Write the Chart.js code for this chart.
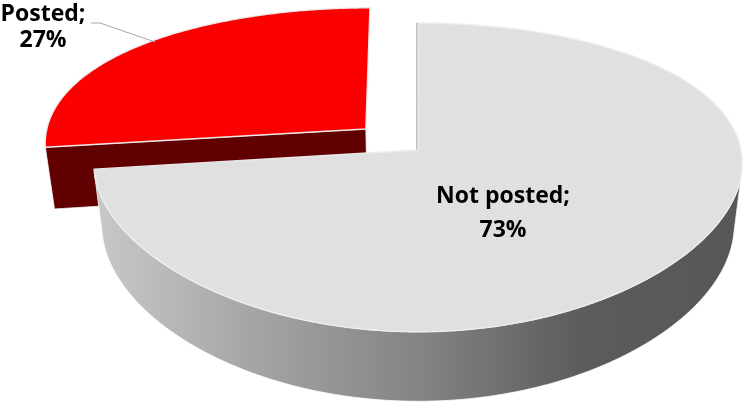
<!DOCTYPE html>
<html>
<head>
<meta charset="utf-8">
<script src="https://cdn.jsdelivr.net/npm/chart.js@4.4.1/dist/chart.umd.min.js"></script>
<style>
  html, body { margin: 0; padding: 0; background: #fff; }
  #chart { display: block; }
</style>
</head>
<body>
<canvas id="chart" width="745" height="407"></canvas>
<script>
const categories = ['Not posted', 'Posted'];
const shares = [73, 27];

// side wall shading per slice (left -> right)
const wallShades = [
    ['#c9c9c9', '#a4a4a4', '#848484', '#5c5c5c', '#575757'],
    ['#600000', '#600000']
];

// perspective used for the tilted pie, radius = 1 in pie units
const tilt = 30 * Math.PI / 180;
const view = { cx: 418, cy: 150, sx: 323, sy: 299, px: 0.1, py: 0.205, thickness: 0.245 };

function project(u, w, z) {
    const s = Math.sin(tilt), c = Math.cos(tilt);
    const dx = 1 - view.px * w * c - view.py * z * s;
    const dy = 1 - view.py * (w * c + z * s);
    return { x: view.cx + view.sx * u / dx, y: view.cy + view.sy * (w * s - z * c) / dy };
}

function rim(a0, a1, ex, ew, z) {
    const pts = [];
    const n = Math.max(2, Math.ceil(Math.abs(a1 - a0) / (Math.PI / 360)));
    for (let k = 0; k <= n; k++) {
        const a = a0 + (a1 - a0) * k / n;
        pts.push(project(ex + Math.cos(a), ew + Math.sin(a), z));
    }
    return pts;
}

function trace(ctx, pts) {
    ctx.beginPath();
    pts.forEach((p, i) => i ? ctx.lineTo(p.x, p.y) : ctx.moveTo(p.x, p.y));
    ctx.closePath();
}

// signed area of one wall strip, negative when it faces the viewer
function stripArea(a, b, c, d) {
    const q = [a, b, c, d];
    let s = 0;
    for (let k = 0; k < 4; k++) {
        const p = q[k], r = q[(k + 1) % 4];
        s += p.x * r.y - r.x * p.y;
    }
    return s;
}

const pie3d = {
    id: 'pie3d',
    beforeDatasetDraw(chart, args) {
        const ctx = chart.ctx;
        const ds = chart.data.datasets[args.index];
        const h = -view.thickness;
        const camW = Math.cos(tilt) / view.py;

        const slices = args.meta.data.map((arc, i) => {
            const mid = (arc.startAngle + arc.endAngle) / 2;
            const e = (arc.options.offset || 0) / arc.outerRadius;
            return { i, a0: arc.startAngle, a1: arc.endAngle, mid, ex: e * Math.cos(mid), ew: e * Math.sin(mid) };
        });
        // back slices first
        slices.sort((p, q) => (Math.sin(p.mid) + p.ew) - (Math.sin(q.mid) + q.ew));

        ctx.save();
        ctx.lineJoin = 'round';
        slices.forEach(sl => {
            const apexTop = project(sl.ex, sl.ew, 0);
            const apexBot = project(sl.ex, sl.ew, h);
            const topRim = rim(sl.a0, sl.a1, sl.ex, sl.ew, 0);
            const botRim = rim(sl.a0, sl.a1, sl.ex, sl.ew, h);
            const xs = topRim.map(p => p.x);
            const g = ctx.createLinearGradient(Math.min(...xs), 0, Math.max(...xs), 0);
            const stops = wallShades[sl.i];
            stops.forEach((col, k) => g.addColorStop(k / (stops.length - 1), col));

            // radial cut faces: filled when they face the viewer, a thin edge when seen edge-on
            const dist = Math.hypot(sl.ex, camW - sl.ew);
            const faces = [
                { n: [Math.sin(sl.a0), -Math.cos(sl.a0)], top: topRim[0], bot: botRim[0] },
                { n: [-Math.sin(sl.a1), Math.cos(sl.a1)], top: topRim[topRim.length - 1], bot: botRim[botRim.length - 1] }
            ];
            faces.forEach(f => {
                const vis = (-sl.ex * f.n[0] + (camW - sl.ew) * f.n[1]) / dist;
                if (vis > 0.1) {
                    trace(ctx, [apexTop, f.top, f.bot, apexBot]);
                    ctx.fillStyle = stops[0];
                    ctx.fill();
                    ctx.strokeStyle = 'rgba(255,255,255,0.75)';
                    ctx.lineWidth = 1;
                    ctx.stroke();
                } else if (vis > -0.1) {
                    ctx.beginPath();
                    ctx.moveTo(apexTop.x - 0.8, apexTop.y);
                    ctx.lineTo(f.top.x - 0.8, f.top.y);
                    ctx.strokeStyle = sl.i === 0 ? '#9a9a9a' : '#d8d8d8';
                    ctx.lineWidth = 1.6;
                    ctx.stroke();
                }
            });

            // outer wall, only the runs that face the viewer
            const runs = [];
            let run = null;
            for (let k = 0; k < topRim.length - 1; k++) {
                const front = stripArea(topRim[k], topRim[k + 1], botRim[k + 1], botRim[k]) < 0;
                if (front) {
                    if (!run) { run = { from: k, to: k + 1 }; runs.push(run); }
                    else run.to = k + 1;
                } else run = null;
            }
            runs.forEach(r => {
                const t = topRim.slice(r.from, r.to + 1);
                const b = botRim.slice(r.from, r.to + 1).reverse();
                trace(ctx, t.concat(b));
                ctx.fillStyle = g;
                ctx.fill();
                ctx.strokeStyle = 'rgba(255,255,255,0.75)';
                ctx.lineWidth = 1;
                ctx.stroke();
            });

            // top face
            trace(ctx, [apexTop].concat(topRim));
            ctx.fillStyle = ds.backgroundColor[sl.i];
            ctx.fill();
            ctx.strokeStyle = 'rgba(238,238,238,0.95)';
            ctx.lineWidth = 1.4;
            ctx.stroke();
        });
        ctx.restore();
        return false;
    },
    afterDraw(chart, args, opts) {
        const ctx = chart.ctx;
        const total = shares.reduce((a, b) => a + b, 0);
        ctx.save();
        // leader for the outside label
        ctx.strokeStyle = '#a6a6a6';
        ctx.lineWidth = 1;
        ctx.beginPath();
        opts.leader.forEach((p, k) => k ? ctx.lineTo(p[0], p[1]) : ctx.moveTo(p[0], p[1]));
        ctx.stroke();

        ctx.fillStyle = '#000';
        ctx.textAlign = 'center';
        ctx.textBaseline = 'alphabetic';
        ctx.font = '700 23px "Open Sans", "DejaVu Sans", sans-serif';
        categories.forEach((name, i) => {
            const spot = opts.spots[i];
            ctx.fillText(name + ';', spot.x, spot.y1);
            ctx.fillText(Math.round(shares[i] / total * 100) + '%', spot.x, spot.y2);
        });
        ctx.restore();
    }
};

new Chart(document.getElementById('chart'), {
    type: 'pie',
    data: {
        labels: categories,
        datasets: [{
            data: shares,
            backgroundColor: ['#e0e0e0', '#fa0000'],
            borderWidth: 0,
            offset: [0, 40]
        }]
    },
    options: {
        responsive: false,
        animation: false,
        layout: { padding: 0 },
        plugins: {
            legend: { display: false },
            tooltip: { enabled: false },
            pie3d: {
                spots: [{ x: 503, y1: 203, y2: 237 }, { x: 43, y1: 21, y2: 47 }],
                leader: [[91, 23], [100, 23], [155, 42]]
            }
        }
    },
    plugins: [pie3d]
});
</script>
</body>
</html>
